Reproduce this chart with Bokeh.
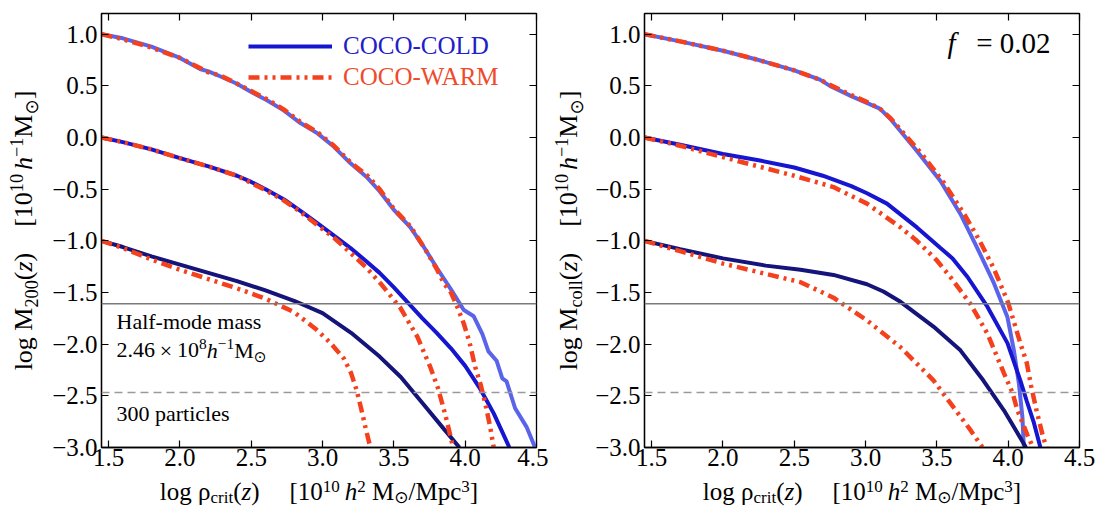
import math
from bokeh.plotting import figure
from bokeh.models import (Label, Span, LinearAxis, FixedTicker, Legend,
                          LegendItem, Range1d)
from bokeh.layouts import row, column
from bokeh.embed import file_html
from bokeh.resources import INLINE

# ---------------- data ----------------
x_ticks = [1.5, 2.0, 2.5, 3.0, 3.5, 4.0, 4.5]
x_tick_labels = ["1.5", "2.0", "2.5", "3.0", "3.5", "4.0", "4.5"]
y_ticks = [-3.0, -2.5, -2.0, -1.5, -1.0, -0.5, 0.0, 0.5, 1.0]
y_tick_labels = ["\u22123.0", "\u22122.5", "\u22122.0", "\u22121.5", "\u22121.0",
                 "\u22120.5", "0.0", "0.5", "1.0"]

half_mode_logm = -1.609      # 2.46e8 h^-1 Msun
particles_300_logm = -2.468  # 300 particles

# left panel: log M200(z)
m200_cold_hi_x = [1.45, 1.6, 1.8, 2.0, 2.145, 2.2, 2.285, 2.4, 2.5, 2.61, 2.73, 2.845, 2.965, 3.08, 3.196,
                  3.315, 3.4, 3.5, 3.616, 3.71, 3.805, 3.90, 3.99, 4.06, 4.12, 4.163, 4.22, 4.26, 4.29,
                  4.35, 4.43, 4.49]
m200_cold_hi_y = [1.0, 0.96, 0.88, 0.77, 0.66, 0.64, 0.59, 0.52, 0.44, 0.36, 0.26, 0.14, 0.04, -0.09, -0.25,
                  -0.39, -0.52, -0.70, -0.87, -1.06, -1.27, -1.47, -1.67, -1.73, -1.90, -2.07, -2.16, -2.33,
                  -2.36, -2.62, -2.80, -3.0]
m200_warm_hi_x = [1.45, 1.6, 1.8, 2.0, 2.145, 2.2, 2.285, 2.4, 2.5, 2.61, 2.73, 2.845, 2.965, 3.08, 3.196,
                  3.315, 3.4, 3.5, 3.616, 3.71, 3.80, 3.85, 3.90, 3.945, 3.99, 4.03, 4.07, 4.11, 4.145,
                  4.175, 4.20]
m200_warm_hi_y = [1.0, 0.95, 0.87, 0.77, 0.67, 0.63, 0.60, 0.52, 0.45, 0.37, 0.27, 0.15, 0.05, -0.08, -0.24,
                  -0.37, -0.50, -0.69, -0.86, -1.06, -1.27, -1.41, -1.50, -1.64, -1.80, -1.98, -2.22, -2.40,
                  -2.60, -2.80, -3.0]
m200_cold_mid_x = [1.45, 1.6, 1.8, 2.0, 2.2, 2.4, 2.5, 2.6, 2.73, 2.845, 2.965, 3.08, 3.196, 3.3, 3.4, 3.5,
                   3.6, 3.7, 3.8, 3.9, 4.0, 4.1, 4.2, 4.25, 4.31]
m200_cold_mid_y = [0.0, -0.045, -0.115, -0.20, -0.28, -0.37, -0.43, -0.50, -0.60, -0.71, -0.83, -0.95, -1.07,
                   -1.19, -1.31, -1.45, -1.60, -1.75, -1.89, -2.04, -2.21, -2.42, -2.67, -2.82, -3.0]
m200_warm_mid_x = [1.45, 1.6, 1.8, 2.0, 2.2, 2.4, 2.5, 2.6, 2.73, 2.845, 2.965, 3.08, 3.175, 3.3, 3.405,
                   3.546, 3.665, 3.755, 3.81, 3.86, 3.895, 3.915]
m200_warm_mid_y = [0.0, -0.045, -0.115, -0.20, -0.28, -0.37, -0.44, -0.51, -0.61, -0.72, -0.85, -0.97, -1.09,
                   -1.25, -1.41, -1.65, -1.93, -2.22, -2.43, -2.68, -2.88, -3.0]
m200_cold_lo_x = [1.45, 1.6, 1.8, 2.0, 2.2, 2.4, 2.6, 2.8, 3.0, 3.2, 3.4, 3.55, 3.7, 3.85, 3.96]
m200_cold_lo_y = [-1.0, -1.06, -1.15, -1.23, -1.31, -1.39, -1.48, -1.58, -1.70, -1.89, -2.12, -2.32, -2.57,
                  -2.82, -3.0]
m200_warm_lo_x = [1.45, 1.6, 1.8, 2.0, 2.2, 2.4, 2.6, 2.8, 2.95, 3.05, 3.15, 3.2, 3.24, 3.27, 3.30, 3.335]
m200_warm_lo_y = [-1.0, -1.07, -1.18, -1.28, -1.37, -1.46, -1.56, -1.69, -1.85, -1.98, -2.14, -2.28, -2.45,
                  -2.62, -2.80, -3.0]

# right panel: log Mcoll(z), f = 0.02
mcoll_cold_hi_x = [1.45, 1.7, 2.0, 2.25, 2.5, 2.68, 2.75, 2.9, 3.0, 3.1, 3.18, 3.36, 3.525, 3.665, 3.78,
                   3.90, 3.995, 4.04, 4.075, 4.10, 4.11]
mcoll_cold_hi_y = [1.0, 0.93, 0.84, 0.75, 0.65, 0.56, 0.50, 0.40, 0.34, 0.28, 0.17, -0.13, -0.42, -0.74,
                   -1.06, -1.41, -1.74, -2.06, -2.38, -2.71, -3.0]
mcoll_warm_hi_x = [1.45, 1.7, 2.0, 2.25, 2.5, 2.68, 2.75, 2.9, 3.0, 3.1, 3.18, 3.4, 3.55, 3.70, 3.80, 3.90,
                   4.0, 4.085, 4.13, 4.16, 4.20, 4.245, 4.27]
mcoll_warm_hi_y = [1.0, 0.93, 0.84, 0.75, 0.65, 0.56, 0.51, 0.41, 0.35, 0.28, 0.18, -0.17, -0.44, -0.76,
                   -1.00, -1.27, -1.60, -1.99, -2.18, -2.40, -2.65, -2.90, -3.0]
mcoll_cold_mid_x = [1.45, 1.7, 2.0, 2.25, 2.5, 2.7, 2.9, 3.01, 3.15, 3.36, 3.525, 3.61, 3.715, 3.855, 3.995,
                    4.085, 4.13, 4.18, 4.226]
mcoll_cold_mid_y = [0.0, -0.07, -0.16, -0.22, -0.29, -0.37, -0.47, -0.54, -0.64, -0.87, -1.07, -1.17, -1.35,
                    -1.64, -1.99, -2.35, -2.55, -2.76, -3.0]
mcoll_warm_mid_x = [1.45, 1.7, 2.0, 2.25, 2.5, 2.775, 3.01, 3.245, 3.36, 3.50, 3.595, 3.735, 3.855, 3.97,
                    4.03, 4.065, 4.135, 4.175]
mcoll_warm_mid_y = [0.0, -0.08, -0.19, -0.28, -0.37, -0.48, -0.64, -0.87, -1.00, -1.19, -1.35, -1.61, -1.90,
                    -2.28, -2.47, -2.64, -2.88, -3.0]
mcoll_cold_lo_x = [1.45, 1.7, 2.0, 2.3, 2.544, 2.775, 3.01, 3.125, 3.245, 3.476, 3.665, 3.825, 3.97, 4.065,
                   4.125]
mcoll_cold_lo_y = [-1.0, -1.08, -1.17, -1.24, -1.28, -1.33, -1.42, -1.49, -1.59, -1.83, -2.06, -2.35, -2.64,
                   -2.86, -3.0]
mcoll_warm_lo_x = [1.45, 1.7, 2.0, 2.3, 2.544, 2.775, 3.01, 3.245, 3.476, 3.616, 3.735, 3.82]
mcoll_warm_lo_y = [-1.0, -1.10, -1.22, -1.32, -1.40, -1.55, -1.77, -2.03, -2.35, -2.61, -2.83, -3.0]

# ---------------- styles / layout ----------------
FONT = "Liberation Serif"
C_HI = "#5a64eb"
C_MID = "#1616d0"
C_LO = "#14147a"
C_WARM = "#f4401c"
WARM_DASH = "11 5 3 5 3 5"
TICK_PX = "25px"
BASE_FIX = 0.35   # label baseline correction (fraction of font size)

X0, X1 = 1.45, 4.5
Y0, Y1 = -3.0, 1.2
FRAME_W, FRAME_H = 435, 434
B_TOP, B_BOT, B_LEFT = 13, 29, 54
PLOT_H = B_TOP + FRAME_H + B_BOT
XLAB_H = 508 - PLOT_H

W_REG = {' ': 250, 'l': 278, 'o': 500, 'g': 500, '\u03c1': 500, 'M': 889, '(': 333, ')': 333,
         '[': 333, ']': 333, '/': 278, 'p': 500, 'c': 444, 'r': 333, 'i': 278, 't': 278,
         '\u2212': 564, '.': 250, '=': 564, '\u00d7': 564}
W_ITA = {'z': 389, 'h': 500, 'f': 278}


def seg_w(txt, kind, fs):
    if kind == 'subsym':
        return 838 * fs / 1000.0 * len(txt)
    tab = W_ITA if kind in ('i', 'supi') else W_REG
    return sum(tab.get(c, W_REG.get(c, 500)) for c in txt) * fs / 1000.0


def rich(p, x, y, segs, size, dx=0.0, dy=0.0, angle=0.0, align='center', color='black',
         small_scale=0.7, sup_shift=0.38, sub_shift=0.2):
    items = []
    for seg in segs:
        if seg[1] == 'gap':
            items.append((None, 'gap', 0, seg[2] * size, 0))
            continue
        t, k = seg
        small = k in ('sup', 'sub', 'supi', 'subsym')
        fs = size * small_scale if small else size
        w = seg_w(t, k, fs)
        if k.startswith('sup'):
            sh = sup_shift * size
        elif k.startswith('sub'):
            sh = -sub_shift * size
        else:
            sh = 0.0
        items.append((t, k, fs, w, sh + BASE_FIX * fs))
    total = sum(it[3] for it in items)
    cum = -total / 2 if align == 'center' else 0.0
    for t, k, fs, w, sh in items:
        if t is not None:
            if angle == 0:
                xo, yo = dx + cum, dy + sh
            else:
                xo, yo = dx - sh, dy + cum
            p.add_layout(Label(x=x, y=y, x_units='data', y_units='data', text=t,
                               x_offset=xo, y_offset=yo, angle=angle,
                               text_font="DejaVu Sans" if k == 'subsym' else FONT,
                               text_font_size=f"{fs:.1f}px",
                               text_font_style='italic' if k in ('i', 'supi') else 'normal',
                               text_color=color, text_align='left', text_baseline='alphabetic'))
        cum += w


def blank(width, height, xr, yr, top=0, bottom=0):
    f = figure(width=width, height=height, x_range=xr, y_range=yr, x_axis_type=None,
               y_axis_type=None, output_backend="svg", toolbar_location=None, title=None,
               min_border_left=0, min_border_right=0, min_border_top=top, min_border_bottom=bottom)
    f.outline_line_color = None
    f.background_fill_color = "white"
    f.border_fill_color = "white"
    return f


def make_fig(border_right):
    p = figure(width=B_LEFT + FRAME_W + border_right, height=PLOT_H,
               x_range=Range1d(X0, X1), y_range=Range1d(Y0, Y1),
               output_backend="svg", toolbar_location=None, title=None,
               min_border_left=B_LEFT, min_border_right=border_right,
               min_border_top=B_TOP, min_border_bottom=B_BOT)
    p.grid.visible = False
    p.outline_line_color = "black"
    p.outline_line_width = 1.3
    p.background_fill_color = "white"
    p.border_fill_color = "white"

    xa = p.xaxis[0]
    xa.ticker = FixedTicker(ticks=x_ticks)
    xa.major_label_overrides = dict(zip(x_ticks, x_tick_labels))
    ya = p.yaxis[0]
    ya.ticker = FixedTicker(ticks=y_ticks)
    ya.major_label_overrides = dict(zip(y_ticks, y_tick_labels))
    for ax, so in ((xa, 1), (ya, 4)):
        ax.major_tick_in = 7
        ax.major_tick_out = 0
        ax.minor_tick_line_color = None
        ax.major_tick_line_color = "black"
        ax.major_tick_line_width = 1.2
        ax.axis_line_color = "black"
        ax.axis_line_width = 1.3
        ax.major_label_text_font = FONT
        ax.major_label_text_font_size = TICK_PX
        ax.major_label_text_color = "black"
        ax.major_label_standoff = so

    for side, tk in (("above", x_ticks), ("right", y_ticks)):
        ax = LinearAxis(ticker=FixedTicker(ticks=tk), major_label_text_font_size="1px",
                        major_label_text_color=None, major_tick_in=7, major_tick_out=0,
                        minor_tick_line_color=None, axis_line_color=None,
                        major_label_standoff=0, major_tick_line_width=1.2)
        p.add_layout(ax, side)

    p.add_layout(Span(location=half_mode_logm, dimension='width', line_color="#7a7a7a",
                      line_width=1.3))
    p.add_layout(Span(location=particles_300_logm, dimension='width', line_color="#9a9a9a",
                      line_width=1.5, line_dash="8 5"))
    return p


def ylabel_fig(width, baseline, sub):
    f = blank(width, PLOT_H, Range1d(0, width), Range1d(Y0, Y1), top=B_TOP, bottom=B_BOT)
    rich(f, baseline, (Y0 + Y1) / 2,
         [("log", 'r'), ('', 'gap', 0.25), ("M", 'r'), (sub, 'sub'), ("(", 'r'),
          ("z", 'i'), (")", 'r'), ('', 'gap', 1.0), ("[10", 'r'), ("10", 'sup'),
          ('', 'gap', 0.15), ("h", 'i'), ("\u22121", 'sup'), ("M", 'r'),
          ("\u2299", 'subsym'), ("]", 'r')],
         26, angle=math.pi / 2)
    return f


def xlabel_fig(width, center):
    f = blank(width, XLAB_H, Range1d(0, width), Range1d(0, XLAB_H))
    rich(f, center, 8, [("log", 'r'), ('', 'gap', 0.25), ("\u03c1", 'r'), ("crit", 'sub'),
                        ("(", 'r'), ("z", 'i'), (")", 'r'), ('', 'gap', 1.2), ("[10", 'r'),
                        ("10", 'sup'), ('', 'gap', 0.2), ("h", 'i'), ("2", 'sup'), ('', 'gap', 0.25),
                        ("M", 'r'), ("\u2299", 'subsym'), ("/Mpc", 'r'), ("3", 'sup'), ("]", 'r')],
         25, small_scale=0.68, sup_shift=0.32, sub_shift=0.1)
    return f


# ---------------- left panel ----------------
YL1_W, R1 = 47, 12
p1 = make_fig(R1)
p1.line(m200_cold_hi_x, m200_cold_hi_y, line_color=C_HI, line_width=4)
r_cold = p1.line(m200_cold_mid_x, m200_cold_mid_y, line_color=C_MID, line_width=4)
p1.line(m200_cold_lo_x, m200_cold_lo_y, line_color=C_LO, line_width=4)
p1.line(m200_warm_hi_x, m200_warm_hi_y, line_color=C_WARM, line_width=4.5, line_dash=WARM_DASH)
r_warm = p1.line(m200_warm_mid_x, m200_warm_mid_y, line_color=C_WARM, line_width=4.5,
                 line_dash=WARM_DASH)
p1.line(m200_warm_lo_x, m200_warm_lo_y, line_color=C_WARM, line_width=4.5, line_dash=WARM_DASH)

for lab, rend, col, loc in (("COCO-COLD", r_cold, "#2020c8", (147, 387)),
                            ("COCO-WARM", r_warm, "#f04a2a", (147, 356))):
    lg = Legend(items=[LegendItem(label=lab, renderers=[rend])], location=loc,
                border_line_color=None, background_fill_alpha=0, padding=0, margin=0,
                glyph_width=84, glyph_height=28, label_standoff=11, label_height=28,
                label_text_font=FONT, label_text_font_size="25px", label_text_color=col)
    p1.add_layout(lg, "center")

Label_kw = dict(text_font=FONT, text_font_size="22px", text_color="black",
                text_align='left', text_baseline='alphabetic')
p1.add_layout(Label(x=X0, y=half_mode_logm, x_offset=15, y_offset=-25 + BASE_FIX * 22,
                    text="Half-mode mass", **Label_kw))
rich(p1, X0, half_mode_logm, [("2.46", 'r'), ('', 'gap', 0.22), ("\u00d7", 'r'), ('', 'gap', 0.22),
                              ("10", 'r'), ("8", 'sup'), ("h", 'i'), ("\u22121", 'sup'), ("M", 'r'),
                              ("\u2299", 'subsym')],
     22, dx=15, dy=-54, align='left')
p1.add_layout(Label(x=X0, y=particles_300_logm, x_offset=15, y_offset=-29 + BASE_FIX * 22,
                    text="300 particles", **Label_kw))

yl1 = ylabel_fig(YL1_W, 32, "200")
xl1 = xlabel_fig(YL1_W + B_LEFT + FRAME_W + R1, YL1_W + B_LEFT + FRAME_W / 2)

# ---------------- right panel ----------------
YL2_W, R2 = 42, 17
p2 = make_fig(R2)
p2.line(mcoll_cold_hi_x, mcoll_cold_hi_y, line_color=C_HI, line_width=4)
p2.line(mcoll_cold_mid_x, mcoll_cold_mid_y, line_color=C_MID, line_width=4)
p2.line(mcoll_cold_lo_x, mcoll_cold_lo_y, line_color=C_LO, line_width=4)
p2.line(mcoll_warm_hi_x, mcoll_warm_hi_y, line_color=C_WARM, line_width=4.5, line_dash=WARM_DASH)
p2.line(mcoll_warm_mid_x, mcoll_warm_mid_y, line_color=C_WARM, line_width=4.5, line_dash=WARM_DASH)
p2.line(mcoll_warm_lo_x, mcoll_warm_lo_y, line_color=C_WARM, line_width=4.5, line_dash=WARM_DASH)

p2.add_layout(Label(x=X1, y=Y1, x_offset=-132, y_offset=-40 + BASE_FIX * 29, text="f",
                    text_font=FONT, text_font_size="29px", text_font_style="italic",
                    text_color="black", text_align='left', text_baseline='alphabetic'))
p2.add_layout(Label(x=X1, y=Y1, x_offset=-29, y_offset=-40 + BASE_FIX * 29, text="= 0.02",
                    text_font=FONT, text_font_size="29px", text_color="black", text_align='right',
                    text_baseline='alphabetic'))

yl2 = ylabel_fig(YL2_W, 29, "coll")
xl2 = xlabel_fig(YL2_W + B_LEFT + FRAME_W + R2, YL2_W + B_LEFT + FRAME_W / 2)

layout = row(column(row(yl1, p1), xl1), column(row(yl2, p2), xl2))
open("out.html", "w").write(file_html(layout, INLINE))
